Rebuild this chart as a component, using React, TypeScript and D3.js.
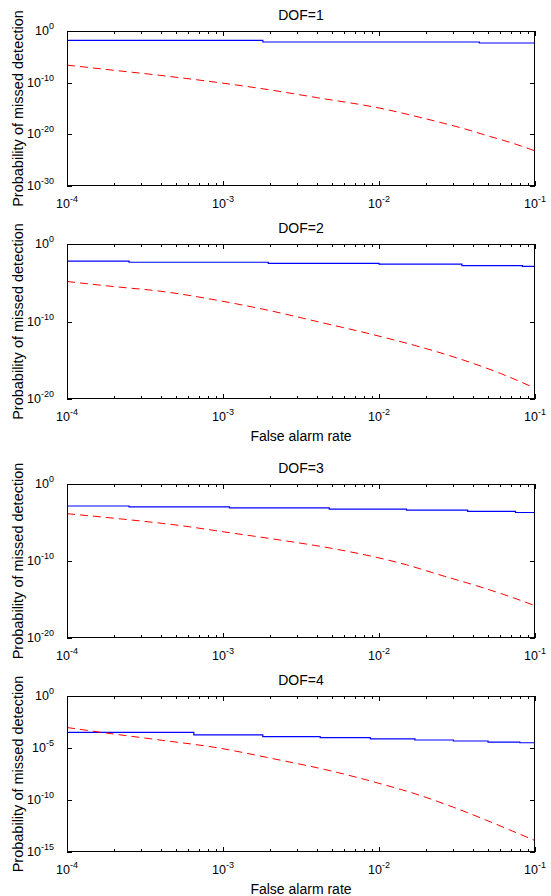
import React from "react";
import * as d3 from "d3";

// ---- Data ----
const panelTitles = ["DOF=1", "DOF=2", "DOF=3", "DOF=4"];
const yDomainsExp = [[-30, 0], [-20, 0], [-20, 0], [-15, 0]];
const yTickExps = [[0, -10, -20, -30], [0, -10, -20], [0, -10, -20], [0, -5, -10, -15]];
const xTickExps = [-4, -3, -2, -1];

const blueX1 = [1e-4, 1.8e-3, 4.4e-2];
const blueY1 = [1.6e-2, 7.4e-3, 4.8e-3];
const redX1 = [1e-4, 2e-4, 4e-4, 1e-3, 2e-3, 4e-3, 1e-2, 2e-2, 3.5e-2, 5e-2, 7e-2, 1e-1];
const redY1 = [2.5e-7, 2.5e-8, 2.5e-9, 7.9e-11, 4.0e-12, 1.26e-13, 1.26e-15, 1.0e-17, 1.26e-19, 5.0e-21, 2.5e-22, 6.3e-24];

const blueX2 = [1e-4, 2.5e-4, 1.95e-3, 1e-2, 3.4e-2, 8.3e-2];
const blueY2 = [6.3e-3, 4.4e-3, 3.2e-3, 2.5e-3, 1.6e-3, 1.3e-3];
const redX2 = [1e-4, 2e-4, 4e-4, 1e-3, 2e-3, 4e-3, 1e-2, 2e-2, 3.5e-2, 6e-2, 1e-1];
const redY2 = [1.45e-5, 3.2e-6, 7.9e-7, 4.0e-8, 2.5e-9, 1.0e-10, 1.3e-12, 3.2e-14, 1.0e-15, 2.0e-17, 2.5e-19];

const blueX3 = [1e-4, 2.5e-4, 1.1e-3, 4.8e-3, 1.5e-2, 3.7e-2, 7.5e-2];
const blueY3 = [1.4e-3, 1.1e-3, 7.9e-4, 5.6e-4, 4.0e-4, 2.8e-4, 2.0e-4];
const redX3 = [1e-4, 2.3e-4, 5.5e-4, 1e-3, 2.1e-3, 5.1e-3, 1e-2, 1.5e-2, 2.4e-2, 4.2e-2, 6.2e-2, 1e-1];
const redY3 = [1.4e-4, 2.7e-5, 3.7e-6, 6.3e-7, 7.2e-8, 4.0e-9, 2.5e-10, 3.2e-11, 1.8e-12, 6.3e-14, 5.0e-15, 1.6e-16];

const blueX4 = [1e-4, 6.5e-4, 1.8e-3, 4.2e-3, 8.8e-3, 1.7e-2, 3e-2, 5e-2, 8e-2];
const blueY4 = [3.2e-4, 1.8e-4, 1.26e-4, 1.0e-4, 7.4e-5, 5.9e-5, 4.7e-5, 3.7e-5, 3.2e-5];
const redX4 = [1e-4, 2e-4, 3.8e-4, 1e-3, 1.9e-3, 5.4e-3, 1e-2, 1.7e-2, 3e-2, 4.8e-2, 7.2e-2, 1e-1];
const redY4 = [9.3e-4, 2.2e-4, 6.3e-5, 8.5e-6, 1.26e-6, 4.5e-8, 4.0e-9, 4.0e-10, 2.0e-11, 1.26e-12, 1.0e-13, 1.26e-14];

const blueXs = [blueX1, blueX2, blueX3, blueX4];
const blueYs = [blueY1, blueY2, blueY3, blueY4];
const redXs = [redX1, redX2, redX3, redX4];
const redYs = [redY1, redY2, redY3, redY4];
const showXLabel = [false, true, false, true];

// ---- Layout ----
const W = 551, H = 896;
const LEFT = 67, RIGHT = 535;
const panelTop = [31, 244, 484, 696];
const panelBottom = [186, 399, 638, 852];
const FONT = "'Liberation Sans', Arial, sans-serif";

function Panel({ i }: { i: number }) {
  const top = panelTop[i], bottom = panelBottom[i];
  const x = d3.scaleLog().domain([1e-4, 1e-1]).range([LEFT, RIGHT]);
  const [lo, hi] = yDomainsExp[i];
  const y = d3.scaleLog().domain([Math.pow(10, lo), Math.pow(10, hi)]).range([bottom, top]);

  const bx = blueXs[i].concat([1e-1]);
  const by = blueYs[i].concat([blueYs[i][blueYs[i].length - 1]]);
  const bluePts: [number, number][] = bx.map((v, k) => [x(v), y(by[k])]);
  const redPts: [number, number][] = redXs[i].map((v, k) => [x(v), y(redYs[i][k])]);

  const blueLine = d3.line().curve(d3.curveStepAfter)(bluePts) || "";
  const redLine = d3.line().curve(d3.curveMonotoneX)(redPts) || "";

  const minorTicks: number[] = [];
  for (let e = -4; e < -1; e++) for (let m = 2; m <= 9; m++) minorTicks.push(m * Math.pow(10, e));

  const majLen = 5, minLen = 3;
  const clipId = `clip${i}`;
  return (
    <g>
      <defs>
        <clipPath id={clipId}>
          <rect x={LEFT} y={top} width={RIGHT - LEFT} height={bottom - top} />
        </clipPath>
      </defs>
      <g clipPath={`url(#${clipId})`}>
        <path d={blueLine} fill="none" stroke="#0000ff" strokeWidth={1.2} />
        <path d={redLine} fill="none" stroke="#ff0000" strokeWidth={1} strokeDasharray="8,5" />
      </g>
      {/* box */}
      <rect x={LEFT + 0.5} y={top + 0.5} width={RIGHT - LEFT - 1} height={bottom - top - 1} fill="none" stroke="#000" strokeWidth={1} />
      {/* x ticks */}
      {minorTicks.map((t, k) => {
        const px = Math.round(x(t)) + 0.5;
        return (
          <g key={"m" + k}>
            <line x1={px} x2={px} y1={bottom} y2={bottom - minLen} stroke="#000" />
            <line x1={px} x2={px} y1={top} y2={top + minLen} stroke="#000" />
          </g>
        );
      })}
      {xTickExps.map((e) => {
        const px = Math.round(x(Math.pow(10, e))) + 0.5;
        return (
          <g key={"x" + e}>
            <line x1={px} x2={px} y1={bottom} y2={bottom - majLen} stroke="#000" />
            <line x1={px} x2={px} y1={top} y2={top + majLen} stroke="#000" />
            <text x={x(Math.pow(10, e))} y={bottom + 22} textAnchor="middle" fontFamily={FONT} fontSize={12.5} fill="#000">
              10<tspan dy={-6} fontSize={9}>{String(e)}</tspan>
            </text>
          </g>
        );
      })}
      {/* y ticks */}
      {yTickExps[i].map((e) => {
        const py = Math.round(y(Math.pow(10, e))) + 0.5;
        return (
          <g key={"y" + e}>
            <line x1={LEFT} x2={LEFT + majLen} y1={py} y2={py} stroke="#000" />
            <line x1={RIGHT} x2={RIGHT - majLen} y1={py} y2={py} stroke="#000" />
            <text x={54} y={y(Math.pow(10, e)) + 4} textAnchor="end" fontFamily={FONT} fontSize={12.5} fill="#000">
              10<tspan dy={-6} fontSize={9}>{String(e)}</tspan>
            </text>
          </g>
        );
      })}
      <text x={(LEFT + RIGHT) / 2} y={top - 11} textAnchor="middle" fontFamily={FONT} fontSize={14} fill="#000">
        {panelTitles[i]}
      </text>
      <text
        transform={`translate(23,${(top + bottom) / 2}) rotate(-90)`}
        textAnchor="middle"
        fontFamily={FONT}
        fontSize={14.5}
        fill="#000"
      >
        Probability of missed detection
      </text>
      {showXLabel[i] && (
        <text x={(LEFT + RIGHT) / 2} y={bottom + 42} textAnchor="middle" fontFamily={FONT} fontSize={14} fill="#000">
          False alarm rate
        </text>
      )}
    </g>
  );
}

export default function App() {
  return (
    <svg
      width={W}
      height={H}
      viewBox={`0 0 ${W} ${H}`}
      style={{ position: "absolute", left: 0, top: 0, background: "#fff" }}
    >
      <rect x={0} y={0} width={W} height={H} fill="#fff" />
      {[0, 1, 2, 3].map((i) => (
        <Panel key={i} i={i} />
      ))}
    </svg>
  );
}
